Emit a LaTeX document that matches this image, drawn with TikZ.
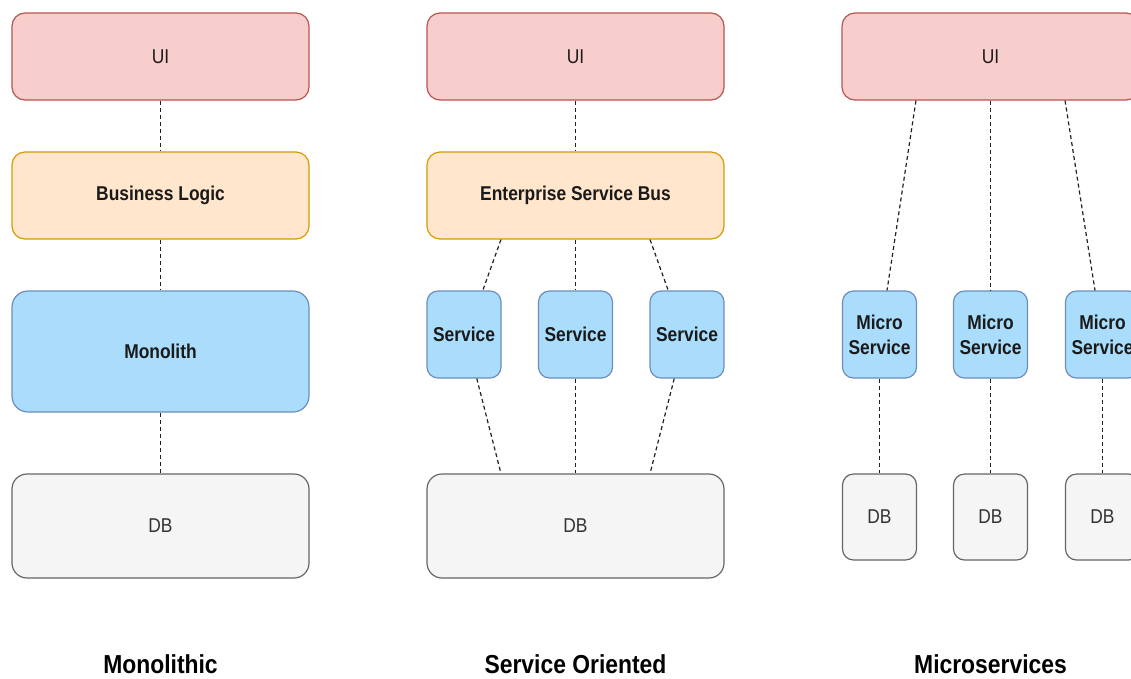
\documentclass[tikz,border=0pt]{standalone}
\usepackage{fontspec}
\setmainfont{Liberation Sans}[FakeStretch=0.87]
\newfontfamily\titlefont{Liberation Sans}[FakeStretch=0.88]
\usetikzlibrary{calc}

\definecolor{uifill}{HTML}{F8CECC}
\definecolor{uistroke}{HTML}{B85450}
\definecolor{orfill}{HTML}{FFE6CC}
\definecolor{orstroke}{HTML}{D79B00}
\definecolor{bluefill}{HTML}{A9DDFB}
\definecolor{bluestroke}{HTML}{6C8EBF}
\definecolor{dbfill}{HTML}{F5F5F5}
\definecolor{dbstroke}{HTML}{666666}
\definecolor{ink}{HTML}{1A1A1A}
\definecolor{dbink}{HTML}{333333}
\definecolor{wire}{HTML}{222222}

\tikzset{
  box/.style={draw, line width=1.2pt, inner sep=0pt, align=center,
    font=\fontsize{20}{25}\selectfont, text=ink},
  wide/.style={box, minimum width=297pt, minimum height=87pt, rounded corners=13pt},
  small/.style={box, minimum width=74pt, minimum height=87pt, rounded corners=11pt},
  uibox/.style={wide, fill=uifill, draw=uistroke},
  orbox/.style={wide, fill=orfill, draw=orstroke, font=\fontsize{20}{25}\selectfont\bfseries},
  svcbox/.style={small, fill=bluefill, draw=bluestroke, font=\fontsize{20}{25}\selectfont\bfseries},
  dbbox/.style={box, fill=dbfill, draw=dbstroke, text=dbink},
  title/.style={anchor=base, font=\titlefont\fontsize{26}{30}\selectfont\bfseries, text=black},
  link/.style={draw=wire, line width=1.2pt, dash pattern=on 4pt off 3pt}
}

\begin{document}
\begin{tikzpicture}[x=1pt, y=-1pt]
\clip (0,0) rectangle (1131,678);
\useasboundingbox (0,0) rectangle (1131,678);
\fill[white] (0,0) rectangle (1131,678);

% Monolithic column
\node[uibox] (mui) at (160.5,56.5) {UI};
\node[orbox] (mbl) at (160.5,195.5) {Business Logic};
\node[svcbox, minimum width=297pt, minimum height=121pt, rounded corners=16pt] (mmono) at (160.5,351.5) {Monolith};
\node[dbbox, minimum width=297pt, minimum height=104pt, rounded corners=15pt] (mdb) at (160.5,526) {DB};
\node[title] (tmono) at (160.5,673) {Monolithic};

\draw[link] (mui) -- (mbl);
\draw[link] (mbl) -- (mmono);
\draw[link] (mmono) -- (mdb);

% Service oriented column
\node[uibox] (sui) at (575.5,56.5) {UI};
\node[orbox] (sesb) at (575.5,195.5) {Enterprise Service Bus};
\node[svcbox] (s1) at (464,334.5) {Service};
\node[svcbox] (s2) at (575.5,334.5) {Service};
\node[svcbox] (s3) at (687,334.5) {Service};
\node[dbbox, minimum width=297pt, minimum height=104pt, rounded corners=15pt] (sdb) at (575.5,526) {DB};
\node[title] (tsoa) at (575.5,673) {Service Oriented};

\draw[link] (sui) -- (sesb);
\draw[link] ($(sesb.south west)!0.25!(sesb.south east)$) -- ($(s1.north west)!0.75!(s1.north east)$);
\draw[link] (sesb.south -| s2) -- (s2);
\draw[link] ($(sesb.south west)!0.75!(sesb.south east)$) -- ($(s3.north west)!0.25!(s3.north east)$);
\draw[link] ($(s1.south west)!0.67!(s1.south east)$) -- ($(sdb.north west)!0.25!(sdb.north east)$);
\draw[link] (s2) -- (sdb.north -| s2);
\draw[link] ($(s3.south west)!0.33!(s3.south east)$) -- ($(sdb.north west)!0.75!(sdb.north east)$);

% Microservices column
\node[uibox] (xui) at (990.5,56.5) {UI};
\node[svcbox] (x1) at (879.5,334.5) {Micro\\Service};
\node[svcbox] (x2) at (990.5,334.5) {Micro\\Service};
\node[svcbox] (x3) at (1102.5,334.5) {Micro\\Service};
\node[dbbox, minimum width=74pt, minimum height=86pt, rounded corners=11pt] (xdb1) at (879.5,517) {DB};
\node[dbbox, minimum width=74pt, minimum height=86pt, rounded corners=11pt] (xdb2) at (990.5,517) {DB};
\node[dbbox, minimum width=74pt, minimum height=86pt, rounded corners=11pt] (xdb3) at (1102.5,517) {DB};
\node[title] (tmicro) at (990.5,673) {Microservices};

\draw[link] ($(xui.south west)!0.25!(xui.south east)$) -- ($(x1.north west)!0.6!(x1.north east)$);
\draw[link] (xui.south -| x2) -- (x2);
\draw[link] ($(xui.south west)!0.75!(xui.south east)$) -- ($(x3.north west)!0.4!(x3.north east)$);
\draw[link] (x1) -- (xdb1);
\draw[link] (x2) -- (xdb2);
\draw[link] (x3) -- (xdb3);
\end{tikzpicture}
\end{document}
